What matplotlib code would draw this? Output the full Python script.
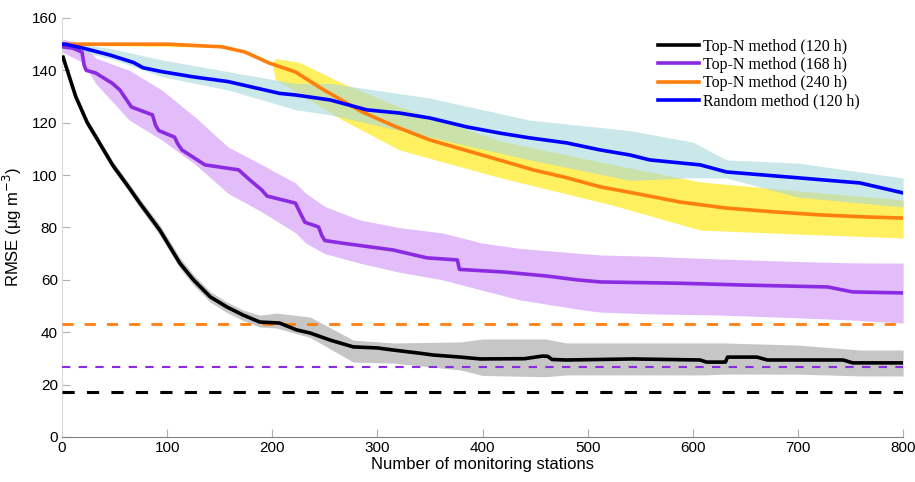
import matplotlib
matplotlib.use("Agg")
import matplotlib.pyplot as plt

# ---- data ----
black_x = [1, 5, 13, 24, 32, 48, 63, 74, 93, 112, 125, 141, 157, 172, 188, 207, 223, 236, 255, 277, 300, 315, 340, 353, 379, 398, 440, 457, 462, 466, 480, 543, 607, 613, 631, 633, 661, 671, 743, 752, 800]
black_y = [145, 140, 130, 120, 114.7, 103.9, 95.6, 89.3, 79, 66.4, 60, 53.5, 49.6, 46.6, 43.9, 43.5, 40.9, 39.7, 37, 34.4, 34, 33.2, 32, 31.3, 30.5, 29.8, 29.9, 30.9, 30.8, 29.6, 29.4, 29.8, 29.4, 28.6, 28.6, 30.5, 30.5, 29.4, 29.4, 28.3, 28.3]
black_bx = [1, 13, 24, 32, 48, 63, 74, 93, 112, 125, 141, 157, 172, 188, 204, 236, 277, 315, 379, 400, 460, 480, 610, 630, 700, 760, 800]
black_hi = [146.5, 131.5, 121.5, 116.2, 105.5, 97.3, 91, 81, 68.5, 62, 55.5, 51.5, 48.5, 46.5, 47.3, 45.8, 37, 35.9, 36.3, 37.4, 37.4, 35.9, 35.9, 35.9, 35.1, 33.2, 33.2]
black_lo = [144, 128.5, 118.5, 113.2, 102.3, 94, 87.5, 77, 64.5, 58, 51.5, 47.5, 44.5, 42, 41.6, 38, 28.6, 28.2, 25.6, 23.5, 23, 23.7, 23.7, 24, 24, 23.3, 23.3]

purple_x = [0, 10, 19, 21, 23, 32, 48, 55, 66, 86, 89, 92, 107, 110, 114, 136, 168, 179, 190, 195, 222, 226, 231, 244, 247, 250, 267, 315, 347, 376, 378, 420, 460, 490, 512, 588, 650, 728, 752, 800]
purple_y = [149, 148.5, 147, 142, 140, 139, 135, 132.5, 126, 123, 119, 117, 114.5, 112, 109.6, 103.9, 102, 98, 94.3, 92, 89.3, 86, 82, 80.2, 77, 75, 74, 71.4, 68.4, 67.6, 64, 63, 61.5, 60, 59.2, 58.7, 58, 57.3, 55.4, 55]
purple_bx = [0, 10, 20, 32, 64, 95, 127, 158, 190, 222, 232, 250, 283, 320, 362, 400, 436, 496, 512, 560, 623, 700, 750, 800]
purple_hi = [152, 151, 150, 144.7, 140, 132.5, 122, 110.7, 104, 97, 93, 88, 82.9, 80, 77.9, 74, 72, 70, 69.5, 69, 68, 67, 66.5, 66.4]
purple_lo = [147, 145, 143, 135, 121, 113.4, 104, 93, 86, 78, 74, 70, 66.4, 63, 60, 56, 52.3, 48.5, 47.7, 47, 46.6, 45.5, 44.7, 43.5]

orange_x = [0, 100, 152, 174, 197, 222, 247, 286, 318, 350, 414, 448, 480, 512, 543, 588, 632, 676, 721, 766, 800]
orange_y = [150, 150, 149, 147, 142.8, 139.4, 133, 124, 118.4, 113.4, 106, 102, 99, 95.5, 93.2, 89.7, 87.4, 86, 84.8, 84, 83.6]
orange_bx = [0, 150, 175, 197, 200, 203, 226, 267, 321, 417, 524, 607, 700, 800]
orange_hi = [150.3, 149.6, 147.5, 143.3, 142.8, 144.5, 143, 135, 126, 113, 104, 97.4, 94, 90.5]
orange_lo = [149.7, 148.8, 146.5, 142.3, 141.8, 136.5, 131, 121, 109.6, 99, 88.5, 79, 77.5, 76]

blue_x = [0, 3, 20, 46, 68, 77, 95, 125, 158, 207, 222, 255, 290, 321, 350, 385, 417, 445, 480, 512, 540, 559, 607, 632, 702, 759, 800]
blue_y = [150, 150, 148.5, 145.8, 143, 141, 139.5, 137.5, 135.7, 131.2, 130.6, 128.7, 124.9, 123.7, 121.8, 118.4, 116, 114.2, 112.3, 109.6, 107.7, 105.8, 103.9, 101.2, 98.9, 97, 93.2]
blue_bx = [0, 20, 50, 95, 158, 222, 255, 350, 445, 540, 600, 632, 700, 800]
blue_hi = [151, 150, 148, 144, 139.5, 135, 135, 129.4, 121, 117, 112.6, 105.8, 104.6, 98.9]
blue_lo = [149, 147, 144, 137.6, 132.5, 125, 123, 114.5, 105.8, 98, 99, 98.9, 91.6, 87.8]

ref_levels = [17.2, 26.7, 43.1]   # black, purple, orange dashed references

labels = ["Top-N method (120 h)", "Top-N method (168 h)", "Top-N method (240 h)", "Random method (120 h)"]
x_ticks = [0, 100, 200, 300, 400, 500, 600, 700, 800]
y_ticks = [0, 20, 40, 60, 80, 100, 120, 140, 160]

# ---- figure ----
plt.rcParams['font.family'] = ['Liberation Sans', 'DejaVu Sans']
fig = plt.figure(figsize=(9.15, 4.82), dpi=100)
ax = fig.add_axes([0.0678, 0.0934, 0.9192, 0.8693])

c_black, c_purple, c_orange, c_blue = "#000000", "#8a2be2", "#ff7f0e", "#0000ff"

ax.fill_between(purple_bx, purple_lo, purple_hi, color="#e2bdfa", lw=0, zorder=1)
ax.fill_between(black_bx, black_lo, black_hi, color="#c6c6c6", lw=0, zorder=1)
ax.fill_between(orange_bx, orange_lo, orange_hi, color="#fff060", lw=0, zorder=1)
ax.fill_between(blue_bx, blue_lo, blue_hi, color="#a8d8dc", alpha=0.6, lw=0, zorder=2)

ax.axhline(ref_levels[2], color=c_orange, lw=2.0, ls=(0, (4, 4)), zorder=3)
ax.axhline(ref_levels[1], color=c_purple, lw=1.5, ls=(0, (4, 4)), zorder=3)
ax.axhline(ref_levels[0], color=c_black, lw=2.2, ls=(0, (4, 4)), zorder=3)

ax.plot(black_x, black_y, color=c_black, lw=2.6, label=labels[0], zorder=5)
ax.plot(purple_x, purple_y, color=c_purple, lw=2.6, label=labels[1], zorder=5)
ax.plot(orange_x, orange_y, color=c_orange, lw=2.6, label=labels[2], zorder=5)
ax.plot(blue_x, blue_y, color=c_blue, lw=2.6, label=labels[3], zorder=6)

ax.set_xlim(0, 800)
ax.set_ylim(0, 160)
ax.set_xticks(x_ticks)
ax.set_yticks(y_ticks)
ax.tick_params(direction="in", length=6, color="#b0b0b0", labelsize=11, pad=3)
for s in ["top", "right"]:
    ax.spines[s].set_visible(False)
ax.spines["left"].set_color("#d8d8d8")
ax.spines["bottom"].set_color("#808080")

ax.set_xlabel("Number of monitoring stations", fontsize=12, labelpad=1)
ax.set_ylabel("RMSE (μg m$^{-3}$)", fontsize=12, labelpad=6)

leg = ax.legend(loc="upper right", bbox_to_anchor=(0.965, 0.985), frameon=False,
                prop={"family": "Liberation Serif", "size": 11.5},
                handlelength=2.6, handletextpad=0.2, labelspacing=0.14)

fig.savefig("out.png", dpi=100)
